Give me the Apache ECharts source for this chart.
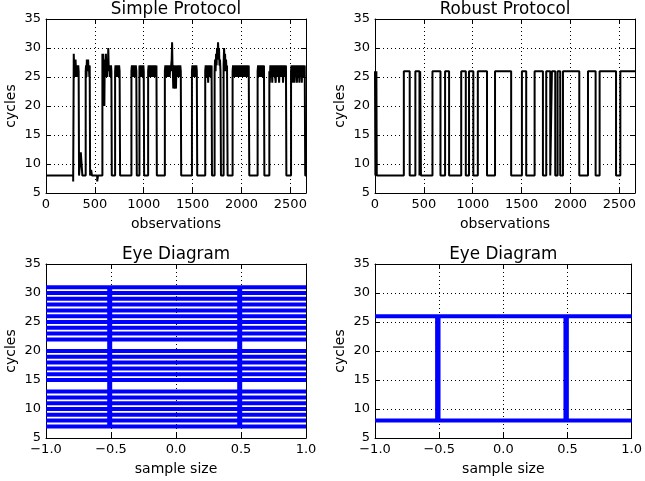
<!DOCTYPE html>
<html>
<head>
<meta charset="utf-8">
<script src="https://cdn.jsdelivr.net/npm/echarts@6/dist/echarts.min.js"></script>
<style>
html,body{margin:0;padding:0;background:#fff;}
#main{width:645px;height:481px;}
</style>
</head>
<body>
<div id="main"></div>
<script>
// ---- Data ----
const titles = ['Simple Protocol', 'Robust Protocol', 'Eye Diagram', 'Eye Diagram'];
const yTicks = [5, 10, 15, 20, 25, 30, 35];
const obsTicks = [0, 500, 1000, 1500, 2000, 2500];
const obsMax = 2660;
const sampleTicks = [-1.0, -0.5, 0.0, 0.5, 1.0];

// Simple protocol as runs: [cycles value, number of observations it lasts]
const simpleRuns = [
  [8,278],[7,6],
  [29,4],[26,5],[27,5],[25,4],[28,5],[26,5],[27,5],[25,4],[27,5],[26,4],[27,4],[26,4],
  [8,18],[12,16],[8,34],
  [26,4],[27,4],[25,4],[28,5],[26,4],[27,4],[28,4],[26,4],[27,4],[25,4],[27,4],
  [8,11],[9,8],[8,54],[7,8],[8,45],
  [29,4],[26,4],[29,4],[25,4],[27,4],[20,4],[28,4],[25,4],[27,4],[29,4],[26,4],[27,4],[25,4],[28,4],[26,4],[30,4],[27,4],[26,4],[27,4],[25,4],[27,4],[26,4],[27,4],[26,4],
  [8,34],
  [26,4],[27,5],[25,4],[27,5],[26,4],[27,5],[25,4],[27,5],[26,5],[27,5],[26,5],
  [8,116],
  [26,5],[27,5],[25,5],[27,5],[26,5],[27,5],[25,5],[27,5],[26,5],[27,5],[26,5],
  [8,27],
  [27,4],[25,4],[27,4],[26,4],[27,4],[25,4],[27,4],[26,4],[27,4],[25,4],[27,4],[26,4],
  [8,41],
  [26,5],[27,5],[25,5],[27,5],[26,5],[27,5],[25,5],[27,5],[26,5],[27,5],[25,5],[27,5],[26,5],[27,5],[25,5],[27,5],[26,5],[27,4],
  [8,82],
  [26,5],[27,5],[25,5],[27,5],[26,5],[27,5],[25,5],[27,5],[26,5],[27,5],[25,5],[27,5],[26,5],[27,5],
  [28,4],[31,4],[27,4],[26,4],
  [23,4],[27,5],[25,5],[23,4],[27,5],[26,5],[23,4],[27,5],[25,5],[27,5],[26,5],[27,5],[25,5],[27,5],[26,5],[27,5],[26,4],
  [8,110],
  [26,5],[27,5],[25,5],[27,5],[26,5],[27,5],[25,5],[27,5],[26,5],[27,5],[26,4],
  [8,82],
  [26,5],[27,5],[25,5],[27,5],[26,5],[27,5],[24,5],[27,5],[26,5],[27,5],[25,5],[27,5],[26,5],[27,4],
  [8,27],
  [26,5],[28,5],[26,5],[29,5],[27,5],[30,5],[28,5],[31,5],[29,5],[30,5],[27,5],[28,5],[26,5],
  [8,27],
  [27,5],[30,5],[27,5],[29,5],[26,5],[28,5],[26,5],[27,6],
  [8,51],
  [26,5],[27,5],[25,5],[27,5],[26,5],[27,5],[25,5],[26,5],[27,5],[25,5],[27,5],[26,5],[27,5],[25,5],[26,5],[27,5],[25,5],
  [27,5],[26,5],[27,5],[25,5],[26,5],[27,5],[25,5],[27,5],[26,5],[27,5],[25,5],[26,5],[27,5],[25,5],[27,5],[26,5],[27,6],
  [8,85],
  [26,5],[27,5],[25,5],[27,5],[26,5],[27,5],[25,5],[27,5],[26,5],[27,5],[25,5],[27,5],[26,5],[27,4],
  [8,51],
  [26,5],[24,5],[27,5],[25,5],[27,5],[26,5],[24,5],[27,5],[25,5],[27,5],[26,5],[27,5],[25,5],[24,5],[27,5],[26,5],[27,5],
  [25,5],[27,5],[26,5],[24,5],[27,5],[25,5],[27,5],[26,5],[27,5],[25,5],[27,5],[24,5],[26,5],[27,5],[25,5],[27,5],[26,5],[27,4],
  [8,48],
  [26,5],[27,5],[25,5],[27,5],[24,5],[27,5],[26,5],[24,5],[27,5],[25,5],[27,5],[26,5],[24,5],[27,5],[26,5],[25,5],[27,5],
  [24,5],[26,5],[27,5],[25,5],[27,5],[24,5],[27,5],[26,5],[25,5],[27,5],[26,5],[27,5],
  [8,8]
];

// Robust protocol: value holds from robustX[i] until robustX[i+1]
const robustX = [0, 4, 7, 11, 14, 18, 295, 355, 413, 455, 462, 470, 588, 670, 717, 758, 882, 929, 962, 1006, 1052, 1146, 1228, 1393,
  1503, 1547, 1633, 1718, 1752, 1793, 1810, 1844, 1868, 1895, 1923, 2090, 2179, 2257, 2298, 2466, 2510, 2660];
const robustY = [26, 8, 26, 8, 26, 8, 26, 8, 26, 8, 26, 8, 26, 8, 26, 8, 26, 8, 26, 8, 26, 8, 26, 8,
  26, 8, 26, 8, 26, 8, 26, 8, 26, 8, 26, 8, 26, 8, 26, 8, 26, 26];

// Eye diagrams
const eyeSimpleLevels = [7, 8, 9, 10, 11, 12, 13, 15, 16, 17, 18, 19, 20, 22, 23, 24, 25, 26, 27, 28, 29, 30, 31];
const eyeSimpleCross = [-0.51, 0.49];
const eyeRobustLevels = [8, 26];
const eyeRobustCross = [-0.516, -0.505, 0.484, 0.495];

// ---- Chart ----
const FF = 'DejaVu Sans';
const grids = [
  {left: 46, top: 19, width: 260, height: 174},
  {left: 375, top: 19, width: 260, height: 174},
  {left: 46, top: 264, width: 260, height: 174},
  {left: 375, top: 264, width: 260, height: 174}
];
const black = '#000';
function minusFmt(v) { return (v < 0 ? '\u2212' : '') + Math.abs(v).toFixed(1); }

const xAxes = [], yAxes = [];
grids.forEach((g, i) => {
  const isObs = i < 2;
  const ticks = isObs ? obsTicks : sampleTicks;
  const xmin = ticks[0];
  const xmax = isObs ? obsMax : ticks[ticks.length - 1];
  const interval = ticks[1] - ticks[0];
  const common = {
    gridIndex: i, type: 'value', min: xmin, max: xmax, interval: interval,
    axisLine: {show: true, onZero: false, lineStyle: {color: black, width: 1}},
    axisTick: {show: true, inside: true, length: 5, lineStyle: {color: black, width: 1}}
  };
  xAxes.push(Object.assign({}, common, {
    position: 'bottom',
    name: isObs ? 'observations' : 'sample size',
    nameLocation: 'middle', nameGap: 24,
    nameTextStyle: {fontSize: 14, color: black, fontFamily: FF},
    axisLabel: {fontSize: 13, color: black, fontFamily: FF, margin: 5,
      formatter: isObs ? (v => String(v)) : minusFmt},
    splitLine: {show: true, lineStyle: {color: black, width: 1, type: [1, 3]}}
  }));
  xAxes.push(Object.assign({}, common, {
    position: 'top',
    name: titles[i], nameLocation: 'middle', nameGap: 1,
    nameTextStyle: {fontSize: 16.8, color: black, fontFamily: FF},
    axisLabel: {show: false},
    splitLine: {show: false}
  }));
  const ycommon = {
    gridIndex: i, type: 'value', min: yTicks[0], max: yTicks[yTicks.length - 1], interval: yTicks[1] - yTicks[0],
    axisLine: {show: true, onZero: false, lineStyle: {color: black, width: 1}},
    axisTick: {show: true, inside: true, length: 5, lineStyle: {color: black, width: 1}}
  };
  yAxes.push(Object.assign({}, ycommon, {
    position: 'left',
    name: 'cycles', nameLocation: 'middle', nameGap: 28,
    nameTextStyle: {fontSize: 14, color: black, fontFamily: FF},
    axisLabel: {fontSize: 13, color: black, fontFamily: FF, margin: 5},
    splitLine: {show: true, lineStyle: {color: black, width: 1, type: [1, 3]}}
  }));
  yAxes.push(Object.assign({}, ycommon, {
    position: 'right',
    axisLabel: {show: false},
    splitLine: {show: false}
  }));
});

const series = [];
function stepSeries(points, gi) {
  series.push({
    type: 'line', step: 'end', showSymbol: false, silent: true,
    xAxisIndex: gi * 2, yAxisIndex: gi * 2,
    lineStyle: {color: black, width: 2},
    data: points
  });
}
// decode runs into step points
const simplePts = [];
let pos = 0;
simpleRuns.forEach(r => { simplePts.push([pos, r[0]]); pos += r[1]; });
simplePts.push([pos, simpleRuns[simpleRuns.length - 1][0]]);
stepSeries(simplePts, 0);
stepSeries(robustX.map((x, k) => [x, robustY[k]]), 1);

function eye(levels, cross, gi, vw) {
  levels.forEach(l => {
    series.push({
      type: 'line', showSymbol: false, silent: true,
      xAxisIndex: gi * 2, yAxisIndex: gi * 2,
      lineStyle: {color: '#0000ff', width: 4},
      data: [[sampleTicks[0], l], [sampleTicks[sampleTicks.length - 1], l]]
    });
  });
  const lo = Math.min.apply(null, levels), hi = Math.max.apply(null, levels);
  cross.forEach(c => {
    series.push({
      type: 'line', showSymbol: false, silent: true,
      xAxisIndex: gi * 2, yAxisIndex: gi * 2,
      lineStyle: {color: '#0000ff', width: vw},
      data: [[c, lo], [c, hi]]
    });
  });
}
eye(eyeSimpleLevels, eyeSimpleCross, 2, 5);
eye(eyeRobustLevels, eyeRobustCross, 3, 4);

const chart = echarts.init(document.getElementById('main'), null, {renderer: 'canvas'});
chart.setOption({
  animation: false,
  backgroundColor: '#fff',
  grid: grids.map(g => Object.assign({containLabel: false}, g)),
  xAxis: xAxes,
  yAxis: yAxes,
  series: series
});
</script>
</body>
</html>
